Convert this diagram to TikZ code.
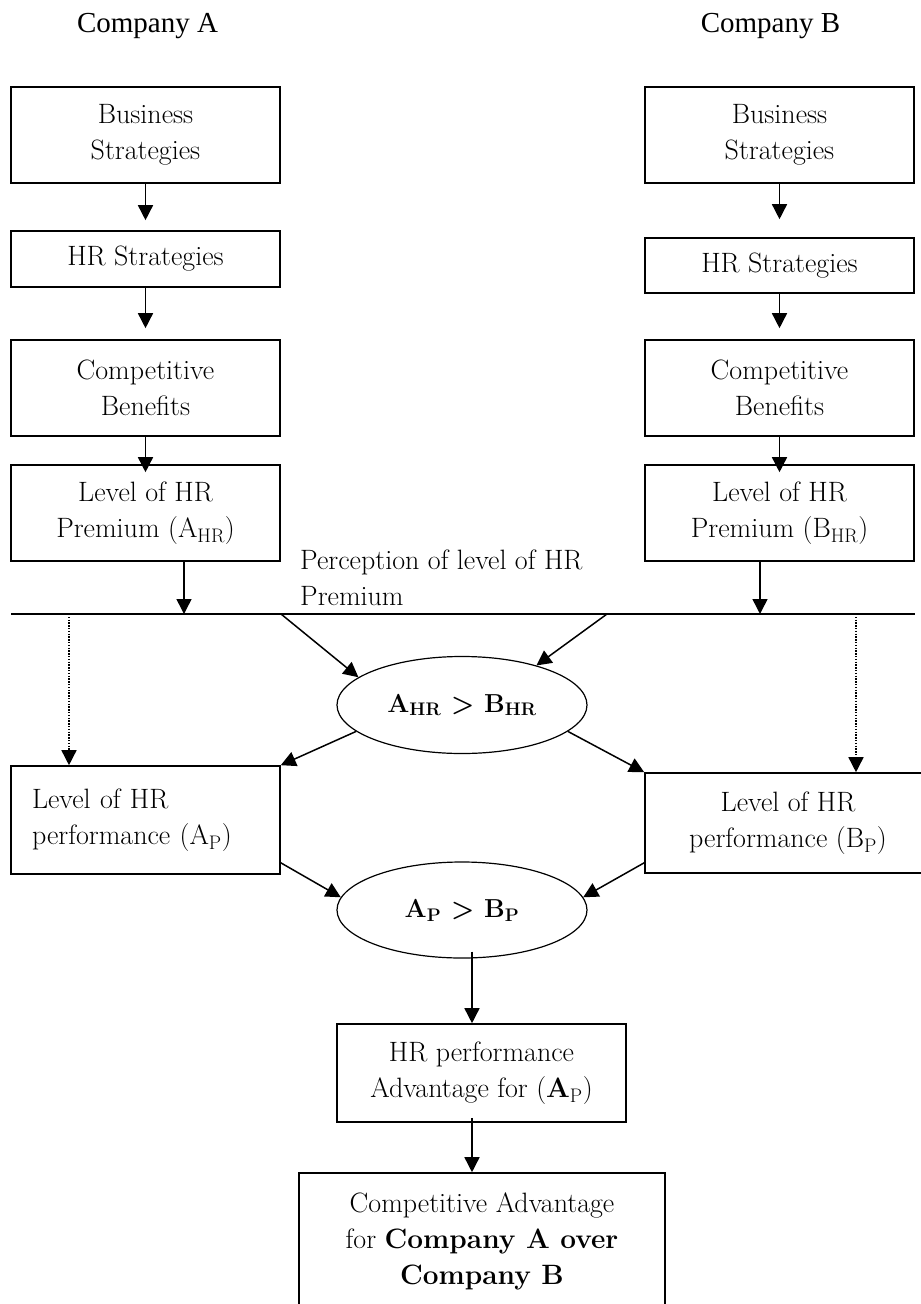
\documentclass[tikz,border=0pt]{standalone}
\usepackage{fontspec}
\newfontfamily\timesfont{Liberation Serif}
\usetikzlibrary{arrows.meta,shapes.geometric}
\begin{document}
\begin{tikzpicture}[x=1pt,y=-1pt,
  txt/.style={font=\fontsize{28}{36}\selectfont, inner sep=0pt, align=center},
  box/.style={txt, draw, line width=1.6pt},
  oval/.style={ellipse, draw, line width=1.2pt, inner sep=0pt, minimum width=250pt, minimum height=97pt, font=\fontsize{26}{32}\selectfont\bfseries},
  title/.style={font=\timesfont\fontsize{29}{36}\selectfont, inner sep=0pt, anchor=base},
  arr/.style={line width=1.5pt, -{Triangle[width=15pt,length=15pt]}},
  dotarr/.style={arr, dash pattern=on 1.4pt off 1.4pt},
]
\clip (0,0) rectangle (921,1304);
\fill[white] (0,0) rectangle (921,1304);

% titles
\node[title] (compA) at (147.5,32) {Company A};
\node[title] (compB) at (770.5,32) {Company B};

% column A
\node[box, minimum width=269pt, minimum height=96pt] (bsA) at (145.5,135) {Business\\Strategies};
\node[box, minimum width=269pt, minimum height=56pt] (hrA) at (145.5,259) {HR Strategies};
\node[box, minimum width=269pt, minimum height=96pt] (cbA) at (145.5,388) {Competitive\\Benefits};
\node[box, minimum width=269pt, minimum height=96pt] (lpA) at (145.5,513) {Level of HR\\Premium (A\textsubscript{HR})};

% column B
\node[box, minimum width=269pt, minimum height=96pt] (bsB) at (779.5,135) {Business\\Strategies};
\node[box, minimum width=269pt, minimum height=55pt] (hrB) at (779.5,265.5) {HR Strategies};
\node[box, minimum width=269pt, minimum height=96pt] (cbB) at (779.5,388) {Competitive\\Benefits};
\node[box, minimum width=269pt, minimum height=96pt] (lpB) at (779.5,513) {Level of HR\\Premium (B\textsubscript{HR})};

\draw[arr] (bsA.south) -- ([yshift=10pt]hrA.north);
\draw[arr] (hrA.south) -- ([yshift=11pt]cbA.north);
\draw[arr] (cbA.south) -- ([yshift=-8pt]lpA.north);
\draw[arr] (bsB.south) -- ([yshift=18pt]hrB.north);
\draw[arr] (hrB.south) -- ([yshift=11pt]cbB.north);
\draw[arr] (cbB.south) -- ([yshift=-8pt]lpB.north);

% perception line
\coordinate (lineL) at (11,614);
\coordinate (lineR) at (915,614);
\draw[line width=1.6pt] (lineL) -- (lineR);
\coordinate (pA) at (184,614);
\coordinate (pB) at (760,614);
\draw[arr] (lpA.south -| pA) -- (pA);
\draw[arr] (lpB.south -| pB) -- (pB);
\node[txt, align=left, anchor=north west] (perc) at (300,550) {Perception of level of HR\\Premium};

% first comparison
\node[oval] (e1) at (462,705) {A\textsubscript{HR} > B\textsubscript{HR}};
\coordinate (s1) at (281,614);
\coordinate (s2) at (607,614);
\draw[arr] (s1) -- (e1.165);
\draw[arr] (s2) -- (e1.28);

% performance boxes
\node[box, text width=227pt, align=left, inner xsep=21pt, minimum height=108pt] (pfA) at (145.5,820) {Level of HR\\performance (A\textsubscript{P})};
\node[box, minimum width=286pt, minimum height=100pt] (pfB) at (788,823) {Level of HR\\performance (B\textsubscript{P})};

\coordinate (dA) at (69,614);
\coordinate (dB) at (856,614);
\draw[dotarr] (dA) -- (dA |- pfA.north);
\draw[dotarr] (dB) -- (dB |- pfB.north);

\draw[arr] (e1.194) -- (pfA.north east);
\draw[arr] (e1.346) -- (pfB.north west);

% second comparison
\node[oval, minimum height=96pt] (e2) at (462,910) {A\textsubscript{P} > B\textsubscript{P}};
\draw[arr] ([yshift=12pt]pfA.south east) -- (e2.174);
\draw[arr] ([yshift=11pt]pfB.south west) -- (e2.6);

% outcome
\node[box, minimum width=289pt, minimum height=98pt] (adv) at (481.5,1073) {HR performance\\Advantage for (\textbf{A}\textsubscript{P})};
\node[box, minimum width=366pt, minimum height=137pt] (fin) at (482,1241.5) {Competitive Advantage\\for \textbf{Company A over}\\\textbf{Company B}};
\draw[arr] ([xshift=10pt,yshift=7pt]e2.south) -- ([xshift=-9.5pt]adv.north);
\draw[arr] ([xshift=-9.5pt,yshift=5pt]adv.south) -- ([xshift=-10pt]fin.north);
\end{tikzpicture}
\end{document}
